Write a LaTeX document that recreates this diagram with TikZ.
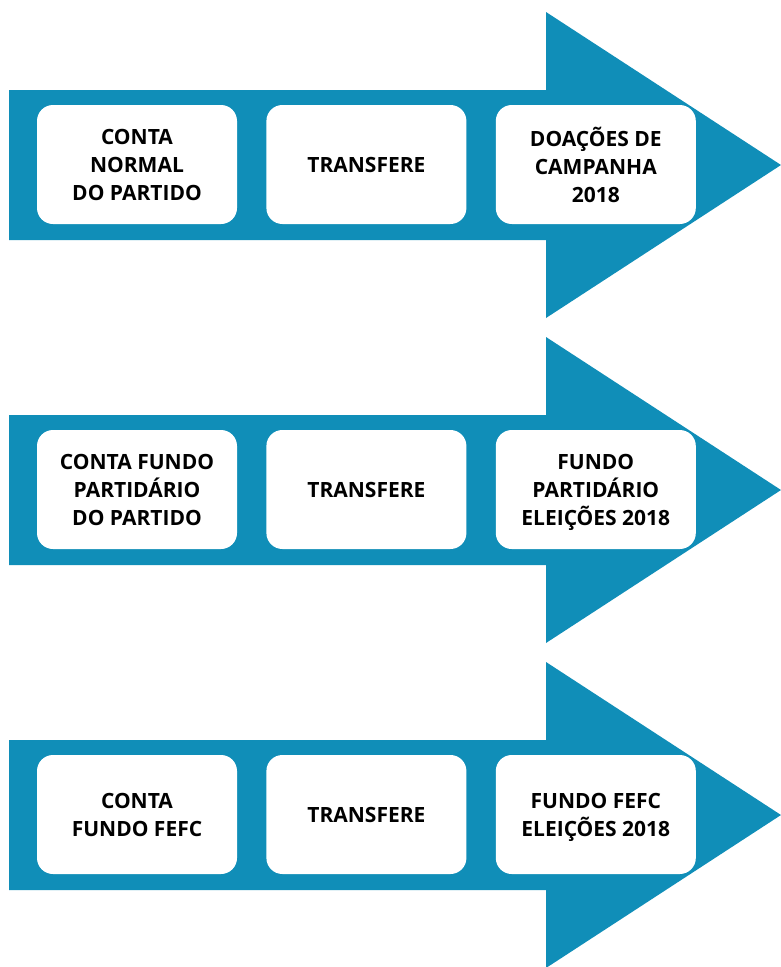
\documentclass[tikz,border=0pt]{standalone}
\usepackage{fontspec}
\setmainfont{Open Sans}
\usetikzlibrary{positioning}
\definecolor{flowblue}{RGB}{16,142,184}
\tikzset{
	node distance = 29pt,
	flowarrow/.style = {
		fill = flowblue,
		draw = none
	},
	stagebox/.style = {
		fill = white,
		draw = none,
		rounded corners = 16pt,
		minimum width = 200pt,
		minimum height = 119pt,
		inner sep = 0pt,
		text depth = 0pt,
		align = center,
		font = \fontsize{21}{28}\selectfont\bfseries
	}
}

\begin{document}
\begin{tikzpicture}[x=1pt, y=-1pt]
	\useasboundingbox (0,0) rectangle (781,967);

	% arrows behind the boxes
	\foreach \off in {0,325,650}
		\fill[flowarrow] (9,90+\off) -- (546,90+\off) -- (546,12+\off) -- (781,165+\off)
			-- (546,318+\off) -- (546,240+\off) -- (9,240+\off) -- cycle;

	\node[stagebox]                  (S1) at (137,164.5) {CONTA\\NORMAL\\DO PARTIDO};
	\node[stagebox, right = of S1]   (T1) {TRANSFERE};
	\node[stagebox, right = of T1]   (D1) {DOAÇÕES DE\\CAMPANHA\\2018};

	\node[stagebox]                  (S2) at (137,489.5) {CONTA FUNDO\\PARTIDÁRIO\\DO PARTIDO};
	\node[stagebox, right = of S2]   (T2) {TRANSFERE};
	\node[stagebox, right = of T2]   (D2) {FUNDO\\PARTIDÁRIO\\ELEIÇÕES 2018};

	\node[stagebox]                  (S3) at (137,814.5) {CONTA\\FUNDO FEFC};
	\node[stagebox, right = of S3]   (T3) {TRANSFERE};
	\node[stagebox, right = of T3]   (D3) {FUNDO FEFC\\ELEIÇÕES 2018};
\end{tikzpicture}
\end{document}
